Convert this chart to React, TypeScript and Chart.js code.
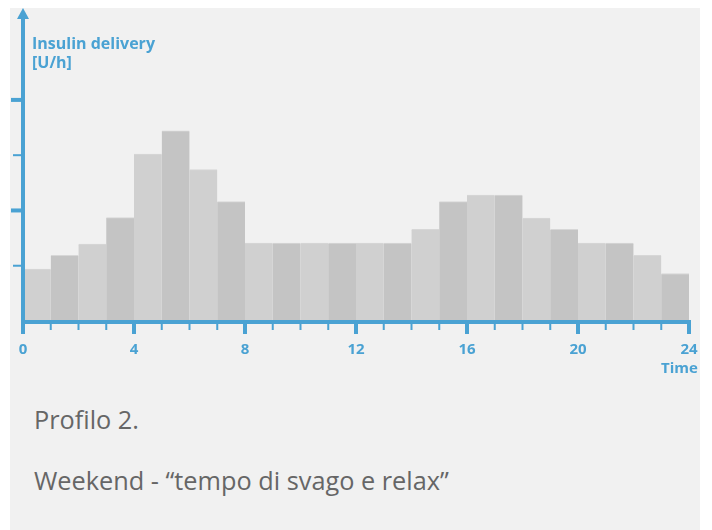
import React, { useEffect, useRef } from 'react';
import { Chart, registerables } from 'chart.js';

Chart.register(...registerables);

// ---- data ----
const hourStart = [0, 1, 2, 3, 4, 5, 6, 7, 8, 9, 10, 11, 12, 13, 14, 15, 16, 17, 18, 19, 20, 21, 22, 23];
const insulinRate = [0.94, 1.19, 1.39, 1.87, 3.02, 3.44, 2.74, 2.16, 1.41, 1.41, 1.41, 1.41, 1.41, 1.41, 1.66, 2.16, 2.28, 2.28, 1.86, 1.66, 1.41, 1.41, 1.19, 0.86];
const xTickValues = [0, 4, 8, 12, 16, 20, 24];
const xTickLabels = ['0', '4', '8', '12', '16', '20', '24'];
const xMinorTicks = [0, 1, 2, 3, 4, 5, 6, 7, 8, 9, 10, 11, 12, 13, 14, 15, 16, 17, 18, 19, 20, 21, 22, 23, 24];
const yTickValues = [1, 2, 3, 4];
const yAxisTitle = ['Insulin delivery', '[U/h]'];
const xAxisTitle = 'Time';
const captionTitle = 'Profilo 2.';
const captionText = 'Weekend - \u201ctempo di svago e relax\u201d';

const BLUE = '#4aa2d3';
const BAR_LIGHT = '#d0d0d0';
const BAR_DARK = '#c4c4c4';
const FONT = '"Open Sans", "Noto Sans", sans-serif';

const axisPlugin = {
  id: 'customAxes',
  afterDatasetsDraw(chart: any) {
    const ctx = chart.ctx as CanvasRenderingContext2D;
    const xs = chart.scales.x;
    const ys = chart.scales.y;
    const { left, bottom } = chart.chartArea;
    ctx.save();
    ctx.fillStyle = BLUE;

    // x axis line
    const x0 = xs.getPixelForValue(0);
    const x24 = xs.getPixelForValue(24);
    ctx.fillRect(x0 - 2, bottom - 1, x24 - x0 + 4, 4);

    // x ticks
    xMinorTicks.forEach((h) => {
      const px = xs.getPixelForValue(h);
      if (xTickValues.includes(h)) {
        ctx.fillRect(px - 2, bottom, 4, 13);
      } else {
        ctx.fillRect(px - 1, bottom, 2, 9);
      }
    });

    // y axis line
    ctx.fillRect(left - 2, 10, 4, bottom + 13 - 10);
    // arrow
    ctx.beginPath();
    ctx.moveTo(left, 0);
    ctx.lineTo(left + 6, 11);
    ctx.lineTo(left - 6, 11);
    ctx.closePath();
    ctx.fill();

    // y ticks
    yTickValues.forEach((v) => {
      const py = ys.getPixelForValue(v);
      if (v % 2 === 0) {
        ctx.fillRect(left - 12, py - 2, 12, 4);
      } else {
        ctx.fillRect(left - 10, py - 1, 10, 2);
      }
    });

    // x tick labels
    ctx.font = `bold 15px ${FONT}`;
    ctx.textAlign = 'center';
    ctx.textBaseline = 'middle';
    xTickValues.forEach((v, i) => {
      ctx.fillText(xTickLabels[i], xs.getPixelForValue(v), bottom + 29);
    });

    // x axis title
    ctx.textAlign = 'left';
    ctx.fillText(xAxisTitle, 651, bottom + 48);

    // y axis title
    ctx.font = `bold 16px ${FONT}`;
    ctx.fillText(yAxisTitle[0], 22, 36);
    ctx.fillText(yAxisTitle[1], 22, 55);

    ctx.restore();
  },
};

export default function App() {
  const canvasRef = useRef<HTMLCanvasElement | null>(null);

  useEffect(() => {
    let chart: Chart | null = null;
    let cancelled = false;
    const create = () => {
      if (cancelled || !canvasRef.current) return;
      chart = new Chart(canvasRef.current, {
        type: 'bar',
        data: {
          datasets: [
            {
              data: hourStart.map((h, i) => ({ x: h + 0.5, y: insulinRate[i] })),
              backgroundColor: (c: any) => (c.dataIndex % 2 === 0 ? BAR_LIGHT : BAR_DARK),
              borderColor: '#d7d7d7',
              borderWidth: { top: 1, left: 0, right: 0, bottom: 0 },
              barPercentage: 1,
              categoryPercentage: 1,
            } as any,
          ],
        },
        options: {
          responsive: false,
          maintainAspectRatio: false,
          animation: false,
          devicePixelRatio: 1,
          layout: { padding: { left: 13, right: 11, top: 9, bottom: 67 } },
          scales: {
            x: { type: 'linear', min: 0, max: 24, offset: false, display: false, ticks: { stepSize: 1 } },
            y: { min: 0, max: 5.5, display: false },
          },
          plugins: { legend: { display: false }, tooltip: { enabled: false } },
        },
        plugins: [axisPlugin],
      });
    };
    if ((document as any).fonts && (document as any).fonts.load) {
      Promise.all([
        (document as any).fonts.load(`bold 16px "Open Sans"`),
        (document as any).fonts.load(`25px "Open Sans"`),
      ])
        .catch(() => null)
        .then(create);
    } else {
      create();
    }
    return () => {
      cancelled = true;
      if (chart) chart.destroy();
    };
  }, []);

  const captionStyle: React.CSSProperties = {
    position: 'absolute',
    left: 24,
    fontFamily: FONT,
    fontSize: 25.3,
    lineHeight: '30px',
    color: '#666666',
    whiteSpace: 'nowrap',
  };

  return (
    <div
      style={{
        position: 'fixed',
        left: 10,
        top: 8,
        width: 690,
        height: 522,
        background: '#f1f1f1',
        overflow: 'hidden',
      }}
    >
      <canvas
        ref={canvasRef}
        width={690}
        height={380}
        style={{ display: 'block', position: 'absolute', left: 0, top: 0, width: 690, height: 380 }}
      />
      <div style={{ ...captionStyle, top: 396 }}>{captionTitle}</div>
      <div style={{ ...captionStyle, top: 457 }}>{captionText}</div>
    </div>
  );
}
